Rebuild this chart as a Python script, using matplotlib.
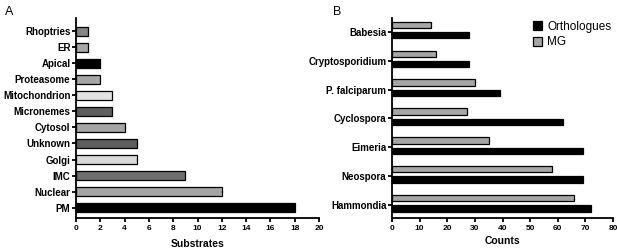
import matplotlib.pyplot as plt
import numpy as np

plt.rcParams['font.family'] = ['Liberation Sans', 'DejaVu Sans']

# Panel A: substrate localisation (top to bottom as shown)
compartments = ["Rhoptries", "ER", "Apical", "Proteasome", "Mitochondrion",
                "Micronemes", "Cytosol", "Unknown", "Golgi", "IMC",
                "Nuclear", "PM"]
substrates = [1, 1, 2, 2, 3, 3, 4, 5, 5, 9, 12, 18]
comp_colors = ["#858585", "#a6a6a6", "#000000", "#a6a6a6", "#e3e3e3",
               "#5e5e5e", "#a6a6a6", "#5e5e5e", "#d9d9d9", "#6e6e6e",
               "#a6a6a6", "#000000"]

# Panel B: counts per organism (top to bottom as shown)
organisms = ["Babesia", "Cryptosporidium", "P. falciparum", "Cyclospora",
             "Eimeria", "Neospora", "Hammondia"]
orthologues = [28, 28, 39, 62, 69, 69, 72]
mg = [14, 16, 30, 27, 35, 58, 66]

fig = plt.figure(figsize=(6.17, 2.49), dpi=100)
axA = fig.add_axes([76 / 617, 31 / 249, 243 / 617, 200 / 249])
axB = fig.add_axes([392 / 617, 31 / 249, 221 / 617, 200 / 249])

lw = 1.3
for ax in (axA, axB):
    for s in ("top", "right"):
        ax.spines[s].set_visible(False)
    for s in ("left", "bottom"):
        ax.spines[s].set_linewidth(lw)
    ax.tick_params(axis="both", width=lw, length=3, direction="out")
    ax.tick_params(axis="x", pad=2)
    ax.tick_params(axis="y", pad=1)

tick_fs = 6
lab_fs = 7

# Panel A
n = len(compartments)
ya = np.arange(n)[::-1]
axA.barh(ya, substrates, height=0.56, color=comp_colors,
         edgecolor="black", linewidth=0.9)
axA.set_yticks(ya)
axA.set_yticklabels(compartments, fontweight="bold", fontsize=lab_fs)
axA.set_ylim(-0.64, n - 1 + 0.81)
axA.set_xlim(0, 20)
axA.set_xticks(np.arange(0, 21, 2))
axA.set_xticklabels([str(v) for v in range(0, 21, 2)], fontweight="bold", fontsize=tick_fs)
axA.set_xlabel("Substrates", fontweight="bold", fontsize=lab_fs + 0.5, labelpad=5)

# Panel B
m = len(organisms)
yb = np.arange(m)[::-1]
axB.barh(yb + 0.24, mg, height=0.22, color="#a6a6a6", edgecolor="black",
         linewidth=0.9, label="MG")
axB.barh(yb - 0.12, orthologues, height=0.22, color="black", edgecolor="black",
         linewidth=0.9, label="Orthologues")
axB.set_yticks(yb)
axB.set_yticklabels(organisms, fontweight="bold", fontsize=lab_fs)
axB.set_ylim(-0.45, m - 1 + 0.48)
axB.set_xlim(0, 80)
axB.set_xticks(np.arange(0, 81, 10))
axB.set_xticklabels([str(v) for v in range(0, 81, 10)], fontweight="bold", fontsize=tick_fs)
axB.set_xlabel("Counts", fontweight="bold", fontsize=lab_fs + 0.5, labelpad=3)

h, l = axB.get_legend_handles_labels()
axB.legend(h[::-1], l[::-1], loc="upper right", bbox_to_anchor=(1.04, 1.04),
           frameon=False, fontsize=8.5, handlelength=0.8, handleheight=0.8,
           handletextpad=0.4, labelspacing=0.3)

fig.text(5 / 617, 1 - 12 / 249, "A", fontsize=9, va="center")
fig.text(333 / 617, 1 - 12 / 249, "B", fontsize=9, va="center")

fig.savefig("out.png", dpi=100)
